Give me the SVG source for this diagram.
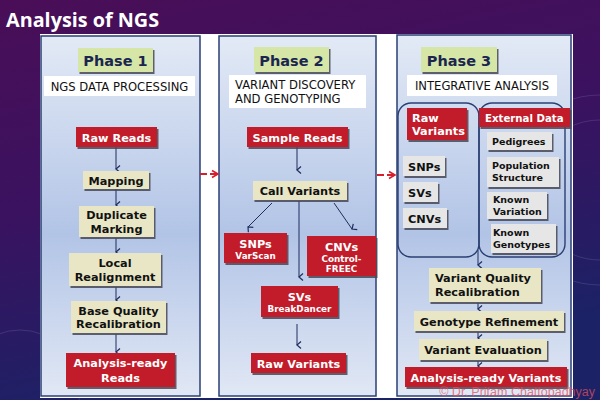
<svg xmlns="http://www.w3.org/2000/svg" width="600" height="400" viewBox="0 0 600 400">
<defs>
<linearGradient id="bg" x1="0" y1="0" x2="0.3" y2="1">
<stop offset="0" stop-color="#4a0e57"/>
<stop offset="0.5" stop-color="#3a1260"/>
<stop offset="1" stop-color="#1b2266"/>
</linearGradient>
<linearGradient id="pn" x1="0" y1="0" x2="0" y2="1">
<stop offset="0" stop-color="#e3eaf6"/>
<stop offset="0.55" stop-color="#b2c4e6"/>
<stop offset="1" stop-color="#e1e8f5"/>
</linearGradient>
<filter id="sh" x="-10%" y="-10%" width="130%" height="140%">
<feDropShadow dx="1.5" dy="2" stdDeviation="0.4" flood-color="#4a4a55" flood-opacity="0.85"/>
</filter>
<marker id="ah" markerWidth="10" markerHeight="10" refX="5" refY="8" orient="auto-start-reverse" markerUnits="userSpaceOnUse" viewBox="0 0 10 10">
<path d="M1.5,4 L5,8 L8.5,4" fill="none" stroke="#1f2d5e" stroke-width="1.2"/>
</marker>
<marker id="rh" markerWidth="10" markerHeight="10" refX="8" refY="5" orient="auto" markerUnits="userSpaceOnUse" viewBox="0 0 10 10">
<path d="M2,1.5 L8,5 L2,8.5" fill="none" stroke="#d81e2c" stroke-width="1.6"/>
</marker>
<style>
.panel{fill:url(#pn);stroke:#2b3f74;stroke-width:1.5}
.ph{fill:#d6e6a6;filter:url(#sh)}
.pht{font-family:"DejaVu Sans",sans-serif;font-weight:bold;font-size:14.5px;fill:#1c2550;text-anchor:middle}
.sub{fill:#ffffff}
.subt{font-family:"DejaVu Sans",sans-serif;font-size:11.6px;fill:#111;text-anchor:middle}
.red{fill:#c21a2b;filter:url(#sh)}
.bei{fill:#e9e6c6;filter:url(#sh)}
.gry{fill:#e6e6e6;filter:url(#sh)}
.wt{font-family:"DejaVu Sans",sans-serif;font-weight:bold;font-size:11.3px;fill:#ffffff;text-anchor:middle}
.bt{font-family:"DejaVu Sans",sans-serif;font-weight:bold;font-size:11.3px;fill:#111;text-anchor:middle}
.ws{font-family:"DejaVu Sans",sans-serif;font-weight:bold;font-size:8.8px;fill:#ffffff;text-anchor:middle}
.sm{font-size:9.5px}
.ext{font-size:10.2px}
.l{text-anchor:start}
.grp{fill:none;stroke:#2b3f74;stroke-width:1.4}
.ar{stroke:#1f2d5e;stroke-width:1;fill:none;marker-end:url(#ah)}
.ra{stroke:#d81e2c;stroke-width:2;fill:none;stroke-dasharray:7 3;marker-end:url(#rh)}
</style>
</defs>
<rect width="600" height="400" fill="url(#bg)"/>
<g fill="none" stroke="#8a7fb8" stroke-opacity="0.25" stroke-width="1">
<circle cx="600" cy="190" r="70"/>
<circle cx="600" cy="190" r="95"/>
<circle cx="20" cy="390" r="60"/>
</g>
<text x="6" y="27" font-family="'Open Sans',sans-serif" font-weight="bold" font-size="19.8" fill="#ffffff">Analysis of NGS</text>
<rect x="40" y="34" width="533" height="364" fill="#ffffff"/>

<g id="panel1">
<rect class="panel" x="41" y="36" width="159" height="360"/>
<rect class="ph" x="78" y="48" width="75" height="24"/>
<text class="pht" x="115.5" y="66">Phase 1</text>
<rect class="sub" x="44" y="76" width="151" height="20"/>
<text class="subt" x="119.5" y="90.5">NGS DATA PROCESSING</text>
</g>
<g id="panel2">
<rect class="panel" x="219" y="36" width="157" height="360"/>
<rect class="ph" x="254" y="47" width="75" height="25"/>
<text class="pht" x="291.5" y="65.5">Phase 2</text>
<rect class="sub" x="229" y="75" width="137" height="33"/>
<text class="subt l" x="235" y="89">VARIANT DISCOVERY</text>
<text class="subt l" x="235" y="103">AND GENOTYPING</text>
</g>
<g id="panel3">
<rect class="panel" x="397" y="35" width="174" height="361"/>
<rect class="ph" x="421" y="47" width="76" height="25"/>
<text class="pht" x="459" y="65.5">Phase 3</text>
<rect class="sub" x="407" y="75" width="150" height="21"/>
<text class="subt" x="482" y="90">INTEGRATIVE ANALYSIS</text>
</g>

<g id="connectors">
<line class="ar" x1="116" y1="147" x2="116" y2="169"/>
<line class="ar" x1="116" y1="189" x2="116" y2="205"/>
<line class="ar" x1="116" y1="238" x2="116" y2="252"/>
<line class="ar" x1="116" y1="287" x2="116" y2="300"/>
<line class="ar" x1="116" y1="334" x2="116" y2="352"/>
<line class="ar" x1="297" y1="147" x2="297" y2="170"/>
<line class="ar" x1="272" y1="203" x2="248" y2="227"/>
<line class="ar" x1="299" y1="201" x2="299" y2="277"/>
<line class="ar" x1="334" y1="203" x2="352" y2="229"/>
<line class="ar" x1="297" y1="324" x2="297" y2="345"/>
<line class="ar" x1="478" y1="250" x2="478" y2="265"/>
<line class="ar" x1="478" y1="303" x2="478" y2="309"/>
<line class="ar" x1="478" y1="332" x2="478" y2="338"/>
<line class="ar" x1="478" y1="361" x2="478" y2="366"/>
<line class="ra" x1="200" y1="174" x2="218" y2="174"/>
<line class="ra" x1="377" y1="175" x2="395" y2="175"/>
</g>

<g id="raw-reads"><rect class="red" x="76" y="127" width="81" height="20"/><text class="wt" x="116.5" y="141.5">Raw Reads</text></g>
<g id="mapping"><rect class="bei" x="83" y="171" width="66" height="18"/><text class="bt" x="116" y="184.5">Mapping</text></g>
<g id="duplicate-marking"><rect class="bei" x="79" y="206" width="75" height="31"/><text class="bt" x="116.5" y="219">Duplicate</text><text class="bt" x="116.5" y="232.5">Marking</text></g>
<g id="local-realignment"><rect class="bei" x="69" y="253" width="92" height="33"/><text class="bt" x="115" y="266.5">Local</text><text class="bt" x="115" y="280.5">Realignment</text></g>
<g id="base-quality"><rect class="bei" x="71" y="301" width="95" height="32"/><text class="bt" x="118.5" y="314.5">Base Quality</text><text class="bt" x="118.5" y="328">Recalibration</text></g>
<g id="analysis-ready-reads"><rect class="red" x="66" y="353" width="109" height="34"/><text class="wt" x="120.5" y="367">Analysis-ready</text><text class="wt" x="120.5" y="381.5">Reads</text></g>

<g id="sample-reads"><rect class="red" x="247" y="127" width="101" height="20"/><text class="wt" x="297.5" y="141.5">Sample Reads</text></g>
<g id="call-variants"><rect class="bei" x="253" y="181" width="94" height="19"/><text class="bt" x="300" y="195">Call Variants</text></g>
<g id="snps-varscan"><rect class="red" x="224" y="233" width="63" height="30"/><text class="wt" x="255.5" y="247.5">SNPs</text><text class="ws" x="255.5" y="258.5">VarScan</text></g>
<g id="cnvs-freec"><rect class="red" x="307" y="236" width="69" height="40"/><text class="wt" x="341.5" y="250.5">CNVs</text><text class="ws" x="341.5" y="261.5">Control-</text><text class="ws" x="341.5" y="272">FREEC</text></g>
<g id="svs-breakdancer"><rect class="red" x="261" y="286" width="77" height="31"/><text class="wt" x="299.5" y="300.5">SVs</text><text class="ws" x="299.5" y="312">BreakDancer</text></g>
<g id="raw-variants-2"><rect class="red" x="251" y="353" width="95" height="20"/><text class="wt" x="298.5" y="367.5">Raw Variants</text></g>

<g id="raw-variants-group"><rect class="grp" x="398" y="103" width="81" height="154" rx="13"/></g>
<g id="external-data-group"><rect class="grp" x="479" y="103" width="86" height="154" rx="13"/></g>
<g id="raw-variants-3"><rect class="red" x="407" y="108" width="60" height="32"/><text class="wt l" x="412" y="121.5">Raw</text><text class="wt l" x="412" y="135">Variants</text></g>
<g id="external-data"><rect class="red" x="479" y="108" width="91" height="19"/><text class="ws ext l" x="485" y="121.5">External Data</text></g>
<g id="snps"><rect class="gry" x="403" y="156" width="42" height="20"/><text class="bt l" x="408" y="170.5">SNPs</text></g>
<g id="svs"><rect class="gry" x="403" y="182" width="35" height="20"/><text class="bt l" x="408" y="196.5">SVs</text></g>
<g id="cnvs"><rect class="gry" x="403" y="208" width="44" height="20"/><text class="bt l" x="408" y="222.5">CNVs</text></g>
<g id="pedigrees"><rect class="gry" x="487" y="132" width="65" height="18"/><text class="bt sm l" x="492" y="145">Pedigrees</text></g>
<g id="population-structure"><rect class="gry" x="487" y="157" width="72" height="30"/><text class="bt sm l" x="492" y="169">Population</text><text class="bt sm l" x="492" y="180.5">Structure</text></g>
<g id="known-variation"><rect class="gry" x="487" y="192" width="60" height="27"/><text class="bt sm l" x="493" y="203">Known</text><text class="bt sm l" x="493" y="214.5">Variation</text></g>
<g id="known-genotypes"><rect class="gry" x="491" y="224" width="65" height="29"/><text class="bt sm l" x="493" y="236">Known</text><text class="bt sm l" x="493" y="248">Genotypes</text></g>
<g id="variant-quality"><rect class="bei" x="429" y="268" width="112" height="34"/><text class="bt l" x="435" y="282">Variant Quality</text><text class="bt l" x="435" y="296">Recalibration</text></g>
<g id="genotype-refinement"><rect class="bei" x="414" y="311" width="150" height="20"/><text class="bt" x="489" y="325.5">Genotype Refinement</text></g>
<g id="variant-evaluation"><rect class="bei" x="419" y="339" width="128" height="21"/><text class="bt" x="483" y="353.5">Variant Evaluation</text></g>
<g id="analysis-ready-variants"><rect class="red" x="405" y="367" width="162" height="20"/><text class="wt" x="486" y="381.5">Analysis-ready Variants</text></g>
<text x="595" y="395.5" text-anchor="end" font-family="'Liberation Sans',sans-serif" font-size="12.5" fill="#e0505f" fill-opacity="0.75">© Dr. Pritam Chattopadhyay</text>
</svg>
